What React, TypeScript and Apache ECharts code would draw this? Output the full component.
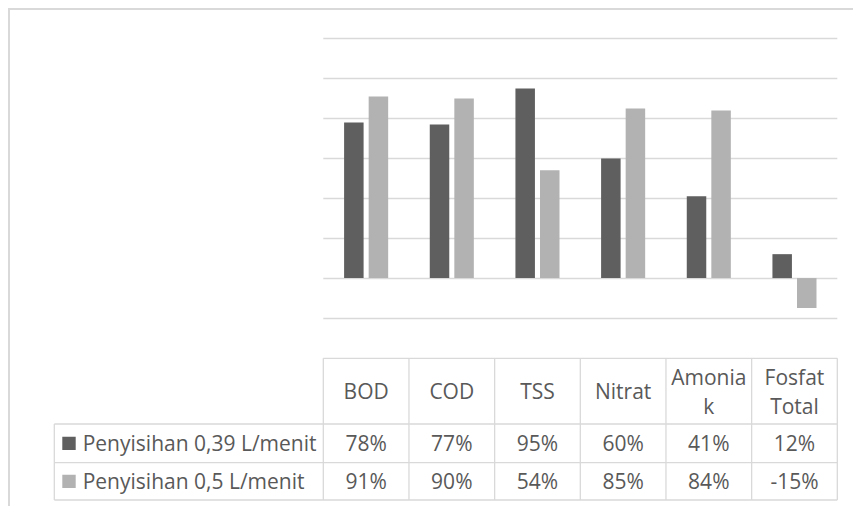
import React, { useEffect, useRef } from 'react';
import * as echarts from 'echarts';

// Removal efficiency (%) per parameter for the two flow rates
const categories = ['BOD', 'COD', 'TSS', 'Nitrat', 'Amoniak', 'Fosfat Total'];
const headerLabels = ['BOD', 'COD', 'TSS', 'Nitrat', 'Amonia\nk', 'Fosfat\nTotal'];
const seriesNames = ['Penyisihan 0,39 L/menit', 'Penyisihan 0,5 L/menit'];
const removal039 = [78, 77, 95, 60, 41, 12];
const removal05 = [91, 90, 54, 85, 84, -15];
const yMin = -20;
const yMax = 120;
const yStep = 20;

const COLORS = ['#5f5f5f', '#b2b2b2'];
const LINE = '#d9d9d9';
const TEXT = '#595959';
const FONT = '"Open Sans", "Noto Sans", sans-serif';
const FONT_SIZE = 21;

export default function App() {
  const ref = useRef<HTMLDivElement>(null);

  useEffect(() => {
    if (!ref.current) return;
    const chart = echarts.init(ref.current, undefined, { renderer: 'svg' });
    const seriesData = [removal039, removal05];

    chart.setOption({
      animation: false,
      backgroundColor: '#ffffff',
      grid: { left: 323.3, right: 15.7, top: 38.7, bottom: 188, containLabel: false },
      xAxis: {
        type: 'category',
        data: categories,
        axisLine: { show: false },
        axisTick: { show: false },
        axisLabel: { show: false },
        splitLine: { show: false },
      },
      yAxis: {
        type: 'value',
        min: yMin,
        max: yMax,
        interval: yStep,
        axisLine: { show: false },
        axisTick: { show: false },
        axisLabel: { show: false },
        splitLine: { show: true, lineStyle: { color: LINE, width: 1.3 } },
      },
      series: seriesNames.map((name, k) => ({
        name,
        type: 'bar',
        data: seriesData[k],
        barWidth: 19.5,
        barGap: '26%',
        itemStyle: { color: COLORS[k] },
      })),
    });

    // Data table under the plot, aligned with the category bands
    const n = categories.length;
    const cx = (i: number) => chart.convertToPixel({ xAxisIndex: 0 }, i) as number;
    const band = cx(1) - cx(0);
    const left = cx(0) - band / 2;
    const right = cx(n - 1) + band / 2;
    const plotBottom = chart.convertToPixel({ yAxisIndex: 0 }, yMin) as number;

    const tableTop = plotBottom + 40.3;
    const headerBottom = tableTop + 65.7;
    const row1Bottom = headerBottom + 38.7;
    const row2Bottom = row1Bottom + 37.3;
    const rowBounds = [headerBottom, row1Bottom, row2Bottom];
    const legendLeft = 54.3;

    const lineStyle = { stroke: LINE, lineWidth: 1.3 };
    const g: any[] = [];

    // outer chart-area border
    g.push({
      type: 'rect',
      shape: { x: 9, y: 9, width: 1200, height: 1200 },
      style: { fill: 'none', stroke: LINE, lineWidth: 2 },
      silent: true,
    });

    // horizontal rules
    g.push({ type: 'line', shape: { x1: left, y1: tableTop, x2: right, y2: tableTop }, style: lineStyle, silent: true });
    rowBounds.forEach((y) => {
      g.push({ type: 'line', shape: { x1: legendLeft, y1: y, x2: right, y2: y }, style: lineStyle, silent: true });
    });
    // vertical rules
    g.push({ type: 'line', shape: { x1: legendLeft, y1: headerBottom, x2: legendLeft, y2: row2Bottom }, style: lineStyle, silent: true });
    for (let i = 0; i <= n; i++) {
      const x = left + band * i;
      g.push({ type: 'line', shape: { x1: x, y1: tableTop, x2: x, y2: row2Bottom }, style: lineStyle, silent: true });
    }

    // header cells
    headerLabels.forEach((label, i) => {
      g.push({
        type: 'text',
        x: cx(i),
        y: (tableTop + headerBottom) / 2,
        silent: true,
        style: {
          text: label,
          fill: TEXT,
          fontFamily: FONT,
          fontSize: FONT_SIZE,
          lineHeight: 29,
          align: 'center',
          verticalAlign: 'middle',
        },
      });
    });

    // value rows with legend keys
    const rowTops = [headerBottom, row1Bottom];
    const rowBottoms = [row1Bottom, row2Bottom];
    seriesNames.forEach((name, k) => {
      const yc = (rowTops[k] + rowBottoms[k]) / 2;
      g.push({
        type: 'rect',
        shape: { x: 62.3, y: yc - 6.7, width: 13.4, height: 13.4 },
        style: { fill: COLORS[k] },
        silent: true,
      });
      g.push({
        type: 'text',
        x: 82.7,
        y: yc,
        silent: true,
        style: {
          text: name,
          fill: TEXT,
          fontFamily: FONT,
          fontSize: FONT_SIZE,
          align: 'left',
          verticalAlign: 'middle',
        },
      });
      seriesData[k].forEach((v, i) => {
        g.push({
          type: 'text',
          x: cx(i),
          y: yc,
          silent: true,
          style: {
            text: `${v}%`,
            fill: TEXT,
            fontFamily: FONT,
            fontSize: FONT_SIZE,
            align: 'center',
            verticalAlign: 'middle',
          },
        });
      });
    });

    chart.setOption({ graphic: g });

    return () => chart.dispose();
  }, []);

  return (
    <div
      ref={ref}
      style={{ position: 'fixed', left: 0, top: 0, width: 853, height: 506 }}
    />
  );
}
